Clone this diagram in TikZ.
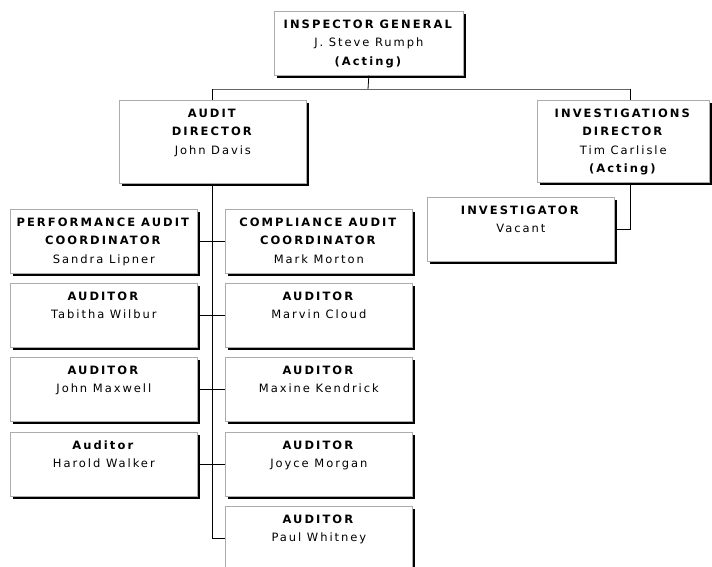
\documentclass[tikz,border=0pt]{standalone}
\usepackage{fontspec}
\setmainfont{DejaVu Sans}[LetterSpace=17, BoldFeatures={LetterSpace=18}]
\usetikzlibrary{shadows}
\newcommand\bxt[3]{\parbox[c][#2][t]{#1}{\centering\fontsize{11.5}{18.5}\selectfont\rule{0pt}{17pt}#3}}
\newcommand\ttl[1]{\textbf{#1}}
\begin{document}
\begin{tikzpicture}[x=1pt,y=-1pt,
  orgbox/.style={draw=gray!65, fill=white, line width=0.7pt, inner sep=0pt, anchor=north west,
    drop shadow={shadow xshift=3pt, shadow yshift=-3pt, fill=black, opacity=1}},
  link/.style={draw=black, line width=0.8pt},
  toplink/.style={draw=gray!80!black, line width=0.8pt}]
\useasboundingbox (0,0) rectangle (712,567);
\clip (0,0) rectangle (712,567);
\node[orgbox] (ig) at (274,11) {\bxt{189pt}{64pt}{\ttl{INSPECTOR GENERAL}\\J. Steve Rumph\\\ttl{(Acting)}}};
\node[orgbox] (ad) at (119,100) {\bxt{187pt}{83pt}{\ttl{AUDIT}\\\ttl{DIRECTOR}\\John Davis}};
\node[orgbox] (id) at (537,100) {\bxt{172pt}{82pt}{\ttl{INVESTIGATIONS}\\\ttl{DIRECTOR}\\Tim Carlisle\\\ttl{(Acting)}}};
\node[orgbox] (inv) at (427,197) {\bxt{187pt}{64pt}{\ttl{INVESTIGATOR}\\Vacant}};
\node[orgbox] (l1) at (10,209) {\bxt{187pt}{64pt}{\ttl{PERFORMANCE AUDIT}\\\ttl{COORDINATOR}\\Sandra Lipner}};
\node[orgbox] (r1) at (225,209) {\bxt{187pt}{64pt}{\ttl{COMPLIANCE AUDIT}\\\ttl{COORDINATOR}\\Mark Morton}};
\node[orgbox] (l2) at (10,283) {\bxt{187pt}{64pt}{\ttl{AUDITOR}\\Tabitha Wilbur}};
\node[orgbox] (r2) at (225,283) {\bxt{187pt}{64pt}{\ttl{AUDITOR}\\Marvin Cloud}};
\node[orgbox] (l3) at (10,357) {\bxt{187pt}{64pt}{\ttl{AUDITOR}\\John Maxwell}};
\node[orgbox] (r3) at (225,357) {\bxt{187pt}{64pt}{\ttl{AUDITOR}\\Maxine Kendrick}};
\node[orgbox] (l4) at (10,432) {\bxt{187pt}{64pt}{\ttl{Auditor}\\Harold Walker}};
\node[orgbox] (r4) at (225,432) {\bxt{187pt}{64pt}{\ttl{AUDITOR}\\Joyce Morgan}};
\node[orgbox] (r5) at (225,506) {\bxt{187pt}{64pt}{\ttl{AUDITOR}\\Paul Whitney}};
\coordinate (bar) at (368,89);
\coordinate (idx) at (630,89);
\draw[link] (ig.south) -- (bar);
\draw[toplink] (ad.north |- bar) -- (idx);
\draw[link] (ad.north |- bar) -- (ad.north);
\draw[link] (idx) -- (idx |- id.north);
\draw[link] (idx |- id.south) -- (idx |- inv.east) -- (inv.east);
\draw[link] (ad.south) -- (ad.south |- r5.west) -- (r5.west);
\draw[link] (l1.east) -- (r1.west);
\draw[link] (l2.east) -- (r2.west);
\draw[link] (l3.east) -- (r3.west);
\draw[link] (l4.east) -- (r4.west);
\end{tikzpicture}
\end{document}
